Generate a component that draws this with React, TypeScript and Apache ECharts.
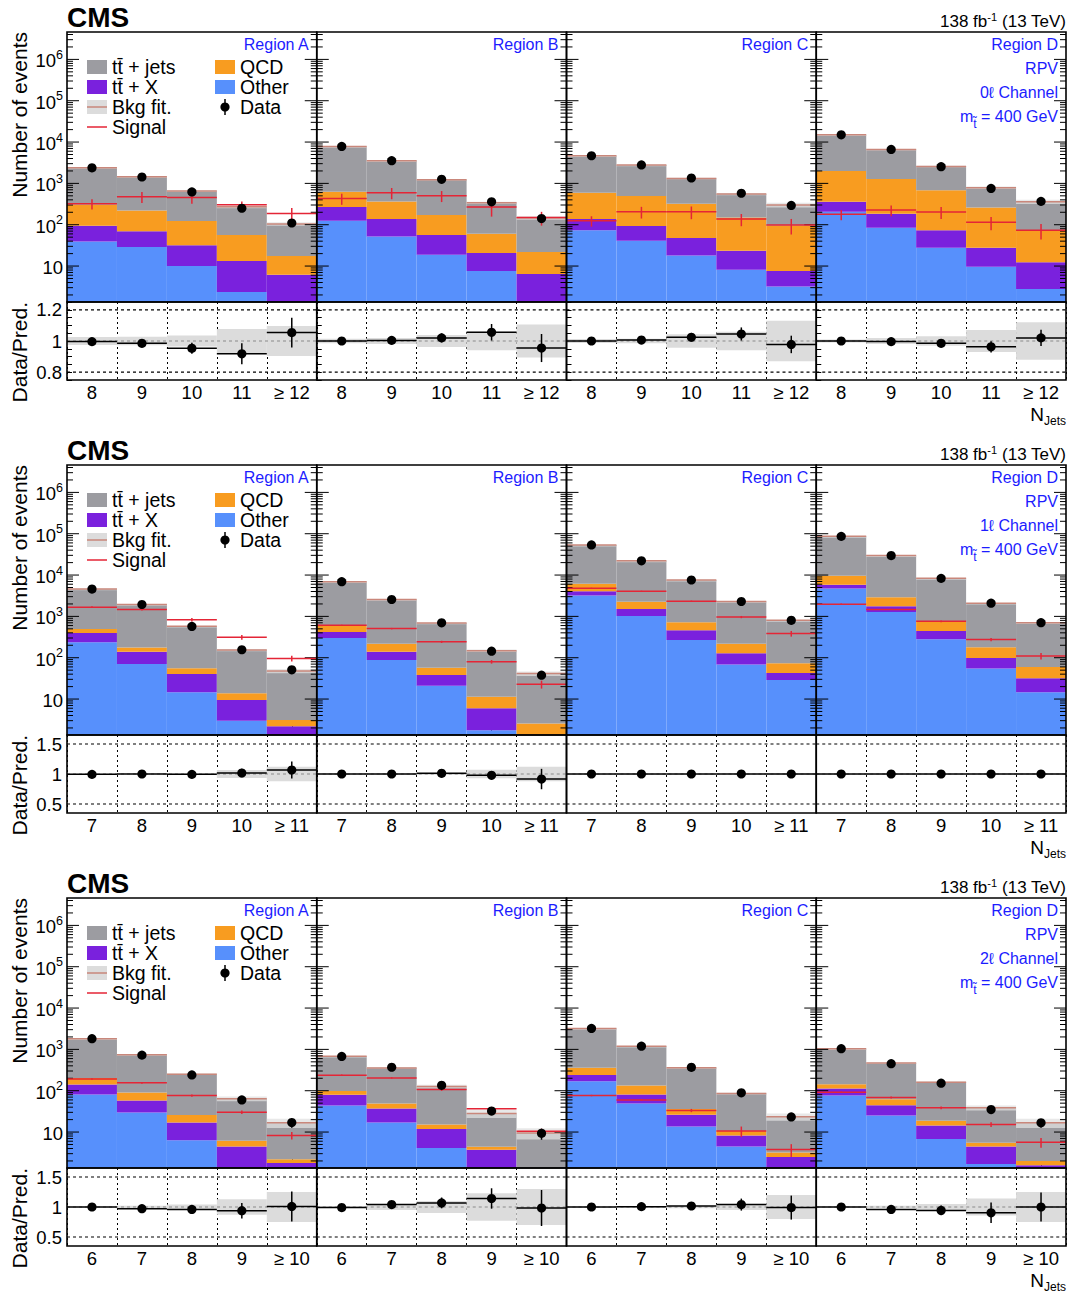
import React, { useEffect, useRef } from "react";
import * as echarts from "echarts";

// ---------------- labels / ticks ----------------
const bins0L = ["8", "9", "10", "11", "≥ 12"];
const bins1L = ["7", "8", "9", "10", "≥ 11"];
const bins2L = ["6", "7", "8", "9", "≥ 10"];
const decades = [1, 10, 100, 1e3, 1e4, 1e5, 1e6];
const logMantissas = [1, 2, 3, 4, 5, 6, 7, 8, 9];
const ratioRefs0L = [0.8, 1, 1.2];
const ratioRefs12 = [0.5, 1, 1.5];
const regionNames = ["Region A", "Region B", "Region C", "Region D"];
const channelNames = ["0ℓ Channel", "1ℓ Channel", "2ℓ Channel"];

// ---------------- 0ℓ channel ----------------
const c0A_other = [39.5, 28.8, 10, 2.35, 0.8];
const c0A_ttx = [55, 41, 22, 10.9, 5.4];
const c0A_qcd = [210, 152, 91, 43, 11.3];
const c0A_ttj = [2085, 1228, 530, 216, 86.5];
const c0A_data = [2380, 1428, 622, 250, 110];
const c0A_sig = [322, 475, 457, 305, 188];
const c0A_sigErr = [90, 140, 135, 60, 65];
const c0A_ratio = [0.996, 0.985, 0.953, 0.918, 1.054];
const c0A_ratioErr = [0.01, 0.01, 0.035, 0.067, 0.095];
const c0A_band = [0.025, 0.027, 0.035, 0.077, 0.096];

const c0B_other = [125, 52, 18.8, 7.6, 0.8];
const c0B_ttx = [142, 85, 38, 13.1, 5.6];
const c0B_qcd = [361, 230, 114, 40, 15.4];
const c0B_ttj = [7222, 3163, 1059, 279, 126];
const c0B_data = [7850, 3545, 1255, 359, 141];
const c0B_sig = [433, 594, 503, 267, 150];
const c0B_sigErr = [130, 180, 150, 110, 55];
const c0B_ratio = [1.0, 1.004, 1.02, 1.056, 0.955];
const c0B_ratioErr = [0.012, 0.017, 0.029, 0.053, 0.09];
const c0B_band = [0.015, 0.02, 0.038, 0.06, 0.106];

const c0C_other = [74, 41, 18.1, 8.1, 3.2];
const c0C_ttx = [63, 52, 29.4, 15.4, 4.4];
const c0C_qcd = [457, 401, 275, 126.5, 88.4];
const c0C_ttj = [4076, 2286, 998, 402, 204];
const c0C_data = [4670, 2797, 1352, 577, 293];
const c0C_sig = [125, 206, 206, 137, 98];
const c0C_sigErr = [35, 65, 70, 45, 40];
const c0C_ratio = [1.0, 1.006, 1.024, 1.045, 0.978];
const c0C_ratioErr = [0.015, 0.019, 0.028, 0.042, 0.056];
const c0C_band = [0.013, 0.015, 0.044, 0.06, 0.13];

const c0D_other = [206, 85, 27.8, 9.6, 2.8];
const c0D_ttx = [154, 100, 46, 18.2, 9.5];
const c0D_qcd = [1630, 1085, 604, 234, 62];
const c0D_ttj = [13010, 5380, 1902, 523, 286];
const c0D_data = [15000, 6620, 2540, 756, 367];
const c0D_sig = [178, 226, 202, 114, 74];
const c0D_sigErr = [50, 65, 65, 40, 30];
const c0D_ratio = [1.0, 0.996, 0.985, 0.963, 1.02];
const c0D_ratioErr = [0.008, 0.012, 0.02, 0.036, 0.052];
const c0D_band = [0.01, 0.02, 0.03, 0.07, 0.12];

// ---------------- 1ℓ channel ----------------
const c1A_other = [238, 70.5, 14.7, 3.0, 0.8];
const c1A_ttx = [160, 68.5, 25.9, 6.5, 1.4];
const c1A_qcd = [99, 38, 14.9, 4.4, 0.93];
const c1A_ttj = [4113, 1763, 519.5, 139, 44.8];
const c1A_data = [4580, 1940, 572, 156, 51];
const c1A_sig = [1675, 1470, 832, 313, 96];
const c1A_sigErr = [80, 80, 80, 40, 15];
const c1A_ratio = [0.994, 1.0, 0.994, 1.017, 1.067];
const c1A_ratioErr = [0.015, 0.023, 0.042, 0.07, 0.14];
const c1A_band = [0.01, 0.01, 0.015, 0.065, 0.12];

const c1B_other = [302, 88, 20.9, 1.77, 0.5];
const c1B_ttx = [119, 51, 17.5, 4.2, 0.4];
const c1B_qcd = [187, 78, 19.1, 5.4, 1.66];
const c1B_ttj = [6312, 2343, 634.5, 135.6, 38.7];
const c1B_data = [6920, 2560, 700, 144, 37.8];
const c1B_sig = [608, 506, 242, 80, 22.9];
const c1B_sigErr = [20, 20, 15, 8, 5];
const c1B_ratio = [1.0, 1.0, 1.011, 0.978, 0.916];
const c1B_ratioErr = [0.012, 0.02, 0.038, 0.06, 0.17];
const c1B_band = [0.01, 0.01, 0.015, 0.07, 0.12];

const c1C_other = [3190, 1020, 270, 69, 29.1];
const c1C_ttx = [865, 480, 191, 60, 13.8];
const c1C_qcd = [2135, 750, 257, 88, 30.1];
const c1C_ttj = [47310, 19850, 6872, 2073, 729];
const c1C_data = [53500, 22100, 7590, 2290, 802];
const c1C_sig = [4790, 4055, 2330, 964, 384];
const c1C_sigErr = [150, 120, 80, 60, 60];
const c1C_ratio = [1.0, 1.0, 1.0, 1.0, 1.0];
const c1C_ratioErr = [0.004, 0.007, 0.011, 0.021, 0.035];
const c1C_band = [0.004, 0.005, 0.006, 0.008, 0.012];

const c1D_other = [4700, 1270, 281, 54.5, 14.7];
const c1D_ttx = [1160, 500, 164, 43.5, 17.2];
const c1D_qcd = [3780, 1140, 314, 82, 27.8];
const c1D_ttj = [76660, 26690, 7561, 1910, 645];
const c1D_data = [86300, 29600, 8320, 2090, 705];
const c1D_sig = [1980, 1470, 759, 275, 110];
const c1D_sigErr = [60, 50, 40, 25, 20];
const c1D_ratio = [1.0, 1.0, 1.0, 1.0, 1.0];
const c1D_ratioErr = [0.003, 0.006, 0.011, 0.022, 0.038];
const c1D_band = [0.004, 0.005, 0.006, 0.01, 0.012];

// ---------------- 2ℓ channel ----------------
const c2A_other = [81, 29.8, 6.3, 0.8, 0.5];
const c2A_ttx = [60, 28.2, 10.8, 3.7, 1.29];
const c2A_qcd = [63, 32.6, 8.6, 1.7, 0.4];
const c2A_ttj = [1611, 656.4, 225.3, 57.5, 14.6];
const c2A_data = [1815, 726, 241, 60, 17];
const c2A_sig = [193, 155, 76.5, 30.3, 8.3];
const c2A_sigErr = [8, 7, 5, 3, 1.7];
const c2A_ratio = [1.0, 0.972, 0.96, 0.938, 1.01];
const c2A_ratioErr = [0.024, 0.037, 0.064, 0.13, 0.25];
const c2A_band = [0.01, 0.02, 0.04, 0.13, 0.25];

const c2B_other = [44, 17.1, 4.1, 0.8, 0.3];
const c2B_ttx = [35.5, 20.1, 7.7, 2.95, 0.4];
const c2B_qcd = [19.5, 11.9, 3.5, 0.68, 0.3];
const c2B_ttj = [582, 307, 110.7, 23.8, 8.5];
const c2B_data = [674, 370, 135, 32.2, 9.3];
const c2B_sig = [237, 204, 107, 36.6, 10.5];
const c2B_sigErr = [10, 8, 8, 4, 1.5];
const c2B_ratio = [0.99, 1.04, 1.068, 1.142, 0.983];
const c2B_ratioErr = [0.04, 0.053, 0.09, 0.17, 0.3];
const c2B_band = [0.015, 0.05, 0.1, 0.23, 0.3];

const c2C_other = [170, 49, 13.7, 4.5, 0.6];
const c2C_ttx = [71, 32, 12.5, 3.8, 1.9];
const c2C_qcd = [121, 52, 9.7, 2.3, 0.68];
const c2C_ttj = [2858, 1057, 326, 75, 20.2];
const c2C_data = [3220, 1197, 368, 89, 23.2];
const c2C_sig = [76.5, 60, 33.3, 10.6, 3.8];
const c2C_sigErr = [3, 3, 3, 3, 1.3];
const c2C_ratio = [1.0, 1.006, 1.017, 1.04, 0.99];
const c2C_ratioErr = [0.018, 0.029, 0.053, 0.1, 0.2];
const c2C_band = [0.01, 0.015, 0.02, 0.05, 0.2];

const c2D_other = [76.5, 25.2, 6.8, 1.69, 0.5];
const c2D_ttx = [36.5, 19.6, 7.7, 2.8, 1.07];
const c2D_qcd = [31, 17.7, 4.3, 1.0, 0.43];
const c2D_ttj = [896, 407.5, 142.2, 33.1, 14.8];
const c2D_data = [1040, 451, 152, 35, 16.8];
const c2D_sig = [92, 68.5, 38.6, 15.3, 5.7];
const c2D_sigErr = [4, 4, 3, 2, 1.5];
const c2D_ratio = [1.0, 0.96, 0.943, 0.903, 1.0];
const c2D_ratioErr = [0.03, 0.046, 0.08, 0.17, 0.24];
const c2D_band = [0.01, 0.02, 0.05, 0.14, 0.25];

// ---------------- assembly ----------------
type Panel = {
  other: number[]; ttx: number[]; qcd: number[]; ttj: number[]; data: number[];
  sig: number[]; sigErr: number[]; ratio: number[]; ratioErr: number[]; band: number[];
};
const mk = (other, ttx, qcd, ttj, data, sig, sigErr, ratio, ratioErr, band): Panel =>
  ({ other, ttx, qcd, ttj, data, sig, sigErr, ratio, ratioErr, band });

const ROWS = [
  {
    bins: bins0L, rmin: 0.75, rmax: 1.25, refs: ratioRefs0L, ratioTicks: true,
    panels: [
      mk(c0A_other, c0A_ttx, c0A_qcd, c0A_ttj, c0A_data, c0A_sig, c0A_sigErr, c0A_ratio, c0A_ratioErr, c0A_band),
      mk(c0B_other, c0B_ttx, c0B_qcd, c0B_ttj, c0B_data, c0B_sig, c0B_sigErr, c0B_ratio, c0B_ratioErr, c0B_band),
      mk(c0C_other, c0C_ttx, c0C_qcd, c0C_ttj, c0C_data, c0C_sig, c0C_sigErr, c0C_ratio, c0C_ratioErr, c0C_band),
      mk(c0D_other, c0D_ttx, c0D_qcd, c0D_ttj, c0D_data, c0D_sig, c0D_sigErr, c0D_ratio, c0D_ratioErr, c0D_band),
    ],
  },
  {
    bins: bins1L, rmin: 0.35, rmax: 1.65, refs: ratioRefs12, ratioTicks: false,
    panels: [
      mk(c1A_other, c1A_ttx, c1A_qcd, c1A_ttj, c1A_data, c1A_sig, c1A_sigErr, c1A_ratio, c1A_ratioErr, c1A_band),
      mk(c1B_other, c1B_ttx, c1B_qcd, c1B_ttj, c1B_data, c1B_sig, c1B_sigErr, c1B_ratio, c1B_ratioErr, c1B_band),
      mk(c1C_other, c1C_ttx, c1C_qcd, c1C_ttj, c1C_data, c1C_sig, c1C_sigErr, c1C_ratio, c1C_ratioErr, c1C_band),
      mk(c1D_other, c1D_ttx, c1D_qcd, c1D_ttj, c1D_data, c1D_sig, c1D_sigErr, c1D_ratio, c1D_ratioErr, c1D_band),
    ],
  },
  {
    bins: bins2L, rmin: 0.35, rmax: 1.65, refs: ratioRefs12, ratioTicks: false,
    panels: [
      mk(c2A_other, c2A_ttx, c2A_qcd, c2A_ttj, c2A_data, c2A_sig, c2A_sigErr, c2A_ratio, c2A_ratioErr, c2A_band),
      mk(c2B_other, c2B_ttx, c2B_qcd, c2B_ttj, c2B_data, c2B_sig, c2B_sigErr, c2B_ratio, c2B_ratioErr, c2B_band),
      mk(c2C_other, c2C_ttx, c2C_qcd, c2C_ttj, c2C_data, c2C_sig, c2C_sigErr, c2C_ratio, c2C_ratioErr, c2C_band),
      mk(c2D_other, c2D_ttx, c2D_qcd, c2D_ttj, c2D_data, c2D_sig, c2D_sigErr, c2D_ratio, c2D_ratioErr, c2D_band),
    ],
  },
];

// ---------------- styling / layout ----------------
const FONT = '"Liberation Sans", Arial, Helvetica, sans-serif';
const COL = {
  ttj: "#9c9ca1", ttx: "#7a21dd", qcd: "#f89c20", other: "#5790fc", sig: "#e42536",
  fit: "#c9877b", band: "rgba(224,224,224,0.75)", ratioBand: "#dcdcdc", region: "#1c1cff",
};
const X0 = 67, PW = 249.75, TOPH = 270, RATH = 78;
const ROW_TOP = [32, 465, 898];
const YMIN = 1.35, YMAX = 4.6e6;

const logTickVals = decades.flatMap((d) => logMantissas.map((m) => m * d));

function clampFn(cs) {
  const yb = cs.y + cs.height;
  return (y) => Math.max(cs.y, Math.min(yb, y));
}

function stackRender(params, api) {
  const cs = params.coordSys;
  const cl = clampFn(cs);
  const i = api.value(0);
  const cx = api.coord([i, 10])[0];
  const w = api.size([1, 10])[0];
  const x0 = cx - w / 2;
  const yb = cs.y + cs.height;
  const py = (v) => cl(api.coord([i, v])[1]);
  const fills = [COL.other, COL.ttx, COL.qcd, COL.ttj];
  const children: any[] = [];
  let cum = 0;
  let prev = yb;
  for (let k = 0; k < 4; k++) {
    cum += api.value(k + 1);
    const y = py(cum);
    if (prev - y > 0.05) {
      children.push({ type: "rect", shape: { x: x0, y, width: w, height: prev - y }, style: { fill: fills[k] } });
    }
    prev = Math.min(prev, y);
  }
  const b = api.value(5);
  const yh = py(cum * (1 + b));
  const yl = py(cum * (1 - b));
  children.push({ type: "rect", shape: { x: x0, y: yh, width: w, height: Math.max(1.5, yl - yh) }, style: { fill: COL.band } });
  const yt = py(cum);
  children.push({ type: "line", shape: { x1: x0, y1: yt, x2: x0 + w, y2: yt }, style: { stroke: COL.fit, lineWidth: 1.5 } });
  return { type: "group", children };
}

function sigRender(params, api) {
  const cs = params.coordSys;
  const cl = clampFn(cs);
  const i = api.value(0);
  const v = api.value(1);
  const e = api.value(2);
  const cx = api.coord([i, v])[0];
  const w = api.size([1, 10])[0];
  const py = (val) => cl(api.coord([i, val])[1]);
  const y = py(v);
  return {
    type: "group",
    children: [
      { type: "line", shape: { x1: cx - w / 2, y1: y, x2: cx + w / 2, y2: y }, style: { stroke: COL.sig, lineWidth: 1.5 } },
      { type: "line", shape: { x1: cx, y1: py(v + e), x2: cx, y2: py(v - e) }, style: { stroke: COL.sig, lineWidth: 1.5 } },
    ],
  };
}

function dataRender(params, api) {
  const cs = params.coordSys;
  const cl = clampFn(cs);
  const i = api.value(0);
  const v = api.value(1);
  const e = api.value(2);
  const p = api.coord([i, v]);
  const py = (val) => cl(api.coord([i, val])[1]);
  return {
    type: "group",
    children: [
      { type: "line", shape: { x1: p[0], y1: py(v + e), x2: p[0], y2: py(v - e) }, style: { stroke: "#000", lineWidth: 1.5 } },
      { type: "circle", shape: { cx: p[0], cy: p[1], r: 4.6 }, style: { fill: "#000" } },
    ],
  };
}

function logTickRender(params, api) {
  const cs = params.coordSys;
  const v = api.value(1);
  const y = api.coord([0, v])[1];
  if (!(y > cs.y + 0.5 && y < cs.y + cs.height - 0.5)) return { type: "group", children: [] };
  const len = decades.includes(v) ? 12 : 6;
  return {
    type: "group",
    children: [
      { type: "line", shape: { x1: cs.x, y1: y, x2: cs.x + len, y2: y }, style: { stroke: "#000", lineWidth: 1 } },
      { type: "line", shape: { x1: cs.x + cs.width - len, y1: y, x2: cs.x + cs.width, y2: y }, style: { stroke: "#000", lineWidth: 1 } },
    ],
  };
}

function ratioBandRender(params, api) {
  const cs = params.coordSys;
  const cl = clampFn(cs);
  const i = api.value(0);
  const c = api.value(1);
  const b = api.value(2);
  const cx = api.coord([i, c])[0];
  const w = api.size([1, 1])[0];
  const yh = cl(api.coord([i, c + b])[1]);
  const yl = cl(api.coord([i, c - b])[1]);
  return { type: "rect", shape: { x: cx - w / 2, y: yh, width: w, height: Math.max(1, yl - yh) }, style: { fill: COL.ratioBand } };
}

function refRender(params, api) {
  const cs = params.coordSys;
  const v = api.value(1);
  const y = api.coord([0, v])[1];
  const isOne = Math.abs(v - 1) < 1e-9;
  return {
    type: "line",
    shape: { x1: cs.x, y1: y, x2: cs.x + cs.width, y2: y },
    style: { stroke: isOne ? "#8a8a8a" : "#000", lineWidth: 1.2, lineDash: [3, 3] },
  };
}

function ratioRender(params, api) {
  const cs = params.coordSys;
  const cl = clampFn(cs);
  const i = api.value(0);
  const v = api.value(1);
  const e = api.value(2);
  const p = api.coord([i, v]);
  const w = api.size([1, 1])[0];
  const py = (val) => cl(api.coord([i, val])[1]);
  return {
    type: "group",
    children: [
      { type: "line", shape: { x1: p[0] - w / 2, y1: p[1], x2: p[0] + w / 2, y2: p[1] }, style: { stroke: "#000", lineWidth: 1.5 } },
      { type: "line", shape: { x1: p[0], y1: py(v + e), x2: p[0], y2: py(v - e) }, style: { stroke: "#000", lineWidth: 1.5 } },
      { type: "circle", shape: { cx: p[0], cy: p[1], r: 4.6 }, style: { fill: "#000" } },
    ],
  };
}

const logFmt = (v: number) => {
  const e = Math.round(Math.log10(v));
  if (e < 1 || Math.abs(v - Math.pow(10, e)) / Math.pow(10, e) > 1e-6) return "";
  if (e === 1) return "{b|10}";
  return `{b|10}{s|${e}}`;
};
const logRich = {
  b: { fontSize: 18.5, fontFamily: FONT, color: "#000", lineHeight: 22, verticalAlign: "bottom" },
  s: { fontSize: 12.5, fontFamily: FONT, color: "#000", lineHeight: 14, verticalAlign: "top" },
};

function txt(x, y, text, o: any = {}) {
  const align = o.align || "left";
  const valign = o.valign || "middle";
  const style: any = {
    text, fill: o.fill || "#000", fontSize: o.fontSize || 16, fontFamily: FONT,
    fontWeight: o.fontWeight || "normal",
    align, textAlign: align, verticalAlign: valign, textVerticalAlign: valign,
  };
  if (o.rich) style.rich = o.rich;
  return { type: "text", x, y, z: 100, silent: true, rotation: o.rotation || 0, style };
}

function buildOption() {
  const grid: any[] = [];
  const xAxis: any[] = [];
  const yAxis: any[] = [];
  const series: any[] = [];
  const elements: any[] = [];

  ROWS.forEach((row, r) => {
    const T = ROW_TOP[r];
    row.panels.forEach((pn, p) => {
      const left = X0 + p * PW;
      const gi = grid.length;
      grid.push({ left, top: T, width: PW, height: TOPH });
      grid.push({ left, top: T + TOPH, width: PW, height: RATH });

      xAxis.push({
        gridIndex: gi, type: "category", data: row.bins, boundaryGap: true,
        axisLine: { show: false }, axisLabel: { show: false },
        axisTick: { show: true, inside: true, alignWithLabel: true, length: 9, lineStyle: { color: "#000", width: 1 } },
        splitLine: { show: false },
      });
      yAxis.push({
        gridIndex: gi, type: "log", logBase: 10, min: YMIN, max: YMAX, splitNumber: 7,
        axisLine: { show: false }, axisTick: { show: false }, splitLine: { show: false },
        axisLabel: { show: p === 0, margin: 4, formatter: logFmt, rich: logRich, showMinLabel: false, showMaxLabel: false },
      });
      xAxis.push({
        gridIndex: gi + 1, type: "category", data: row.bins, boundaryGap: true,
        axisLine: { show: false }, axisTick: { show: false },
        axisLabel: { show: true, interval: 0, margin: 3, color: "#000", fontSize: 18.5, fontFamily: FONT },
        splitLine: { show: true, interval: 0, lineStyle: { color: "#000", type: [2, 3], width: 1 } },
      });
      const refs = row.refs;
      yAxis.push({
        gridIndex: gi + 1, type: "value", min: row.rmin, max: row.rmax, interval: 0.05,
        axisLine: { show: false },
        axisTick: { show: row.ratioTicks, inside: true, length: 5, lineStyle: { color: "#000" } },
        splitLine: { show: false },
        axisLabel: {
          show: p === 0, margin: 5, color: "#000", fontSize: 18.5, fontFamily: FONT,
          formatter: (v: number) => {
            const m = refs.find((x) => Math.abs(x - v) < 1e-6);
            return m === undefined ? "" : String(m);
          },
        },
      });

      const idx = row.bins.map((_, i) => i);
      const base = { type: "custom", xAxisIndex: gi, yAxisIndex: gi, silent: true };
      series.push({ ...base, z: 1, renderItem: stackRender,
        data: idx.map((i) => [i, pn.other[i], pn.ttx[i], pn.qcd[i], pn.ttj[i], pn.band[i]]) });
      series.push({ ...base, z: 3, renderItem: logTickRender, data: logTickVals.map((v) => [0, v]) });
      series.push({ ...base, z: 4, renderItem: sigRender, data: idx.map((i) => [i, pn.sig[i], pn.sigErr[i]]) });
      series.push({ ...base, z: 5, renderItem: dataRender,
        data: idx.map((i) => [i, pn.data[i], pn.data[i] * pn.ratioErr[i]]) });

      const rbase = { type: "custom", xAxisIndex: gi + 1, yAxisIndex: gi + 1, silent: true };
      series.push({ ...rbase, z: 1, renderItem: ratioBandRender, data: idx.map((i) => [i, 1, pn.band[i]]) });
      series.push({ ...rbase, z: 2, renderItem: refRender, data: refs.map((v) => [0, v]) });
      series.push({ ...rbase, z: 5, renderItem: ratioRender, data: idx.map((i) => [i, pn.ratio[i], pn.ratioErr[i]]) });

      // frames
      elements.push({ type: "rect", z: 100, silent: true, shape: { x: left, y: T, width: PW, height: TOPH }, style: { fill: "transparent", stroke: "#000", lineWidth: 1.6 } });
      elements.push({ type: "rect", z: 100, silent: true, shape: { x: left, y: T + TOPH, width: PW, height: RATH }, style: { fill: "transparent", stroke: "#000", lineWidth: 1.6 } });

      // region label
      const rx = left + PW - 8;
      elements.push(txt(rx, T + 12.5, regionNames[p], { align: "right", fill: COL.region, fontSize: 16 }));
      if (p === 3) {
        elements.push(txt(rx, T + 36, "RPV", { align: "right", fill: COL.region, fontSize: 16 }));
        elements.push(txt(rx, T + 60, channelNames[r], { align: "right", fill: COL.region, fontSize: 16 }));
        elements.push(txt(rx, T + 87.2, "{b|m}{s|t̃}{b| = 400 GeV}", {
          align: "right", fill: COL.region, fontSize: 16,
          rich: {
            b: { fontSize: 16, fontFamily: FONT, fill: COL.region, color: COL.region, lineHeight: 18, verticalAlign: "top" },
            s: { fontSize: 12, fontFamily: FONT, fill: COL.region, color: COL.region, lineHeight: 21, verticalAlign: "bottom" },
          },
        }));
      }
    });

    // row texts
    elements.push(txt(67, T - 15, "CMS", { fontSize: 28, fontWeight: "bold" }));
    elements.push(txt(1066, T - 11.5, "{b|138 fb}{s|-1}{b| (13 TeV)}", {
      align: "right", fontSize: 17,
      rich: {
        b: { fontSize: 17, fontFamily: FONT, fill: "#000", color: "#000", lineHeight: 18, verticalAlign: "bottom" },
        s: { fontSize: 11, fontFamily: FONT, fill: "#000", color: "#000", lineHeight: 12, verticalAlign: "top" },
      },
    }));
    elements.push(txt(19, T, "Number of events", { align: "right", fontSize: 21, rotation: Math.PI / 2 }));
    elements.push(txt(19, T + TOPH, "Data/Pred.", { align: "right", fontSize: 21, rotation: Math.PI / 2 }));
    elements.push(txt(1066, T + 384, "{n|N}{s|Jets}", {
      align: "right", fontSize: 19,
      rich: {
        n: { fontSize: 19, fontFamily: FONT, fill: "#000", color: "#000", lineHeight: 20, verticalAlign: "top" },
        s: { fontSize: 12, fontFamily: FONT, fill: "#000", color: "#000", lineHeight: 22, verticalAlign: "bottom" },
      },
    }));

    // legend (panel A)
    const L = T + 35;
    const sw = (x, y, fill) => ({ type: "rect", z: 100, silent: true, shape: { x, y: y - 7, width: 20, height: 14 }, style: { fill } });
    const ln = (x1, y1, x2, y2, stroke) => ({ type: "line", z: 101, silent: true, shape: { x1, y1, x2, y2 }, style: { stroke, lineWidth: 1.5 } });
    elements.push(sw(87, L, COL.ttj));
    elements.push(txt(112, L, "tt̄ + jets", { fontSize: 19.5 }));
    elements.push(sw(87, L + 20, COL.ttx));
    elements.push(txt(112, L + 20, "tt̄ + X", { fontSize: 19.5 }));
    elements.push(sw(87, L + 40, "#dcdcdc"));
    elements.push(ln(87, L + 40, 107, L + 40, COL.fit));
    elements.push(txt(112, L + 40, "Bkg fit.", { fontSize: 19.5 }));
    elements.push(ln(87, L + 60, 107, L + 60, COL.sig));
    elements.push(txt(112, L + 60, "Signal", { fontSize: 19.5 }));
    elements.push(sw(215, L, COL.qcd));
    elements.push(txt(240, L, "QCD", { fontSize: 19.5 }));
    elements.push(sw(215, L + 20, COL.other));
    elements.push(txt(240, L + 20, "Other", { fontSize: 19.5 }));
    elements.push(ln(225, L + 32, 225, L + 48, "#000"));
    elements.push({ type: "circle", z: 101, silent: true, shape: { cx: 225, cy: L + 40, r: 4.6 }, style: { fill: "#000" } });
    elements.push(txt(240, L + 40, "Data", { fontSize: 19.5 }));
  });

  return {
    animation: false,
    backgroundColor: "#fff",
    grid, xAxis, yAxis, series,
    graphic: { elements },
  };
}

export default function App() {
  const ref = useRef<HTMLDivElement>(null);
  useEffect(() => {
    const chart = echarts.init(ref.current!, null, { renderer: "svg" });
    chart.setOption(buildOption() as any);
    return () => chart.dispose();
  }, []);
  return (
    <div
      ref={ref}
      style={{ position: "absolute", left: 0, top: 0, width: 1070, height: 1297, background: "#fff" }}
    />
  );
}
